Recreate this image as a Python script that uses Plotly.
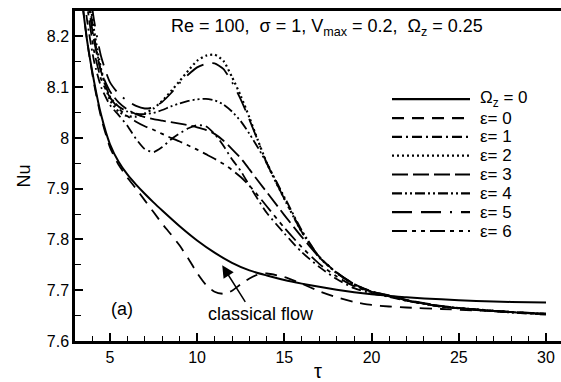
import plotly.graph_objects as go

# ---------------- data ----------------
tau_classical = [3.3, 3.7, 4.1, 4.5, 5.0, 5.5, 6.0, 6.5, 7.0, 7.5, 8.0, 9.0, 10.0, 11.0, 12.0, 13.0, 14.0, 15.0,
                 16.0, 17.0, 18.0, 19.0, 20.0, 21.0, 22.0, 24.0, 26.0, 28.0, 30.0]
nu_classical = [8.30, 8.19, 8.11, 8.045, 7.988, 7.953, 7.928, 7.908, 7.89, 7.873, 7.857, 7.826, 7.798, 7.774, 7.754,
                7.739, 7.729, 7.720, 7.713, 7.707, 7.701, 7.696, 7.692, 7.689, 7.686, 7.682, 7.679, 7.677, 7.676]

tau_e0 = [3.3, 3.7, 4.1, 4.5, 5.0, 5.5, 6.0, 6.5, 7.0, 7.5, 8.0, 8.5, 9.0, 9.5, 10.0, 10.5, 11.0, 11.5, 12.0, 12.5,
          13.0, 13.5, 14.0, 15.0, 16.0, 17.0, 18.0, 19.0, 20.0, 21.0, 22.0, 24.0, 26.0, 28.0, 30.0]
nu_e0 = [8.30, 8.19, 8.105, 8.04, 7.982, 7.947, 7.922, 7.900, 7.877, 7.854, 7.831, 7.81, 7.788, 7.762, 7.734, 7.711,
         7.697, 7.693, 7.699, 7.712, 7.723, 7.731, 7.733, 7.726, 7.713, 7.698, 7.686, 7.677, 7.671, 7.668, 7.666,
         7.663, 7.660, 7.657, 7.654]

tau_e = [3.3, 3.7, 4.1, 4.5, 5.0, 5.5, 6.0, 6.5, 7.0, 7.5, 8.0, 8.5, 9.0, 9.5, 10.0, 10.5, 11.0, 11.5, 12.0,
         12.5, 13.0, 13.5, 14.0, 15.0, 16.0, 17.0, 18.0, 19.0, 20.0, 21.0, 22.0, 24.0, 26.0, 28.0, 30.0]
nu_e1 = [8.36, 8.23, 8.15, 8.10, 8.065, 8.045, 8.024, 7.998, 7.978, 7.972, 7.982, 7.997, 8.009, 8.019, 8.025,
         8.023, 8.008, 7.985, 7.958, 7.935, 7.906, 7.878, 7.852, 7.812, 7.775, 7.746, 7.722, 7.704, 7.694, 7.687,
         7.679, 7.668, 7.662, 7.657, 7.653]
nu_e2 = [8.45, 8.32, 8.21, 8.135, 8.075, 8.052, 8.043, 8.042, 8.048, 8.058, 8.073, 8.092, 8.112, 8.133, 8.152,
         8.162, 8.164, 8.152, 8.12, 8.083, 8.04, 7.994, 7.950, 7.880, 7.815, 7.765, 7.734, 7.711, 7.697, 7.689,
         7.680, 7.668, 7.662, 7.657, 7.653]
nu_e3 = [8.40, 8.28, 8.19, 8.13, 8.092, 8.07, 8.056, 8.047, 8.041, 8.037, 8.034, 8.031, 8.028, 8.025, 8.021,
         8.016, 8.008, 7.995, 7.978, 7.96, 7.938, 7.915, 7.893, 7.848, 7.805, 7.765, 7.735, 7.712, 7.698, 7.690,
         7.681, 7.669, 7.662, 7.657, 7.654]
nu_e4 = [8.42, 8.30, 8.20, 8.13, 8.082, 8.062, 8.052, 8.048, 8.047, 8.049, 8.055, 8.062, 8.068, 8.073, 8.076,
         8.077, 8.074, 8.066, 8.052, 8.033, 8.008, 7.98, 7.950, 7.884, 7.818, 7.766, 7.734, 7.711, 7.697, 7.689,
         7.680, 7.668, 7.661, 7.656, 7.652]
nu_e5 = [8.45, 8.33, 8.23, 8.16, 8.11, 8.087, 8.073, 8.063, 8.058, 8.06, 8.071, 8.088, 8.108, 8.125, 8.139,
         8.146, 8.147, 8.136, 8.11, 8.076, 8.036, 7.993, 7.950, 7.880, 7.815, 7.766, 7.735, 7.712, 7.697, 7.689,
         7.680, 7.668, 7.662, 7.657, 7.653]
nu_e6 = [8.38, 8.26, 8.17, 8.115, 8.08, 8.058, 8.043, 8.032, 8.023, 8.016, 8.008, 8.0, 7.993, 7.985, 7.977,
         7.968, 7.959, 7.949, 7.937, 7.923, 7.906, 7.886, 7.865, 7.823, 7.785, 7.752, 7.727, 7.708, 7.696, 7.688,
         7.680, 7.668, 7.662, 7.657, 7.653]

series_names = ["Ω<sub>z</sub> = 0", "ε= 0", "ε= 1", "ε= 2", "ε= 3", "ε= 4", "ε= 5", "ε= 6"]
series_x = [tau_classical, tau_e0, tau_e, tau_e, tau_e, tau_e, tau_e, tau_e]
series_y = [nu_classical, nu_e0, nu_e1, nu_e2, nu_e3, nu_e4, nu_e5, nu_e6]

x_ticks = [5, 10, 15, 20, 25, 30]
y_ticks = [7.6, 7.7, 7.8, 7.9, 8.0, 8.1, 8.2]
y_ticklabels = ["7.6", "7.7", "7.8", "7.9", "8", "8.1", "8.2"]

# ---------------- styles ----------------
dashes = ["solid", "12px,8px", "10px,4px,2px,4px", "2px,3px", "16px,5px",
          "10px,3px,2px,3px,2px,3px", "20px,9px,20px,9px,2px,9px", "15px,5px,4px,5px,4px,5px"]
widths = [2.0, 1.8, 1.8, 2.2, 1.8, 1.8, 1.8, 1.8]

FONT = "Liberation Sans, Arial, sans-serif"

fig = go.Figure()
for name, xs, ys, d, w in zip(series_names, series_x, series_y, dashes, widths):
    fig.add_trace(go.Scatter(x=xs, y=ys, mode="lines", name=name, showlegend=False,
                             line=dict(color="black", width=w, dash=d, shape="spline", smoothing=0.6)))

# custom legend (long line samples like the reference)
plot_l, plot_r, plot_t, plot_b = 75, 561, 11, 344
pw, ph = plot_r - plot_l, plot_b - plot_t
leg_x0, leg_x1, leg_txt = 392, 470, 478
row0, row_step = 100, 19
for i, (name, d) in enumerate(zip(series_names, dashes)):
    py = row0 + i * row_step
    yp = (plot_b - py) / ph
    fig.add_shape(type="line", xref="paper", yref="paper",
                  x0=(leg_x0 - plot_l) / pw, x1=(leg_x1 - plot_l) / pw, y0=yp, y1=yp,
                  line=dict(color="black", width=2.2, dash=d))
    fig.add_annotation(xref="paper", yref="paper", x=(leg_txt - plot_l) / pw, y=yp,
                       text=name, showarrow=False, xanchor="left", yanchor="middle",
                       font=dict(family=FONT, size=17, color="black"))

# header text
fig.add_annotation(xref="paper", yref="paper", x=(327 - plot_l) / pw, y=(plot_b - 28) / ph,
                   text="Re = 100,  σ = 1, V<sub>max</sub> = 0.2,  Ω<sub>z</sub> = 0.25",
                   showarrow=False, xanchor="center", yanchor="middle",
                   font=dict(family=FONT, size=18, color="black"))
# panel label
fig.add_annotation(xref="paper", yref="paper", x=(122 - plot_l) / pw, y=(plot_b - 312) / ph,
                   text="(a)", showarrow=False, xanchor="center", yanchor="middle",
                   font=dict(family=FONT, size=18, color="black"))
# classical flow label with arrow
fig.add_annotation(x=11.44, y=7.749, ax=24, ay=38, text="", showarrow=True,
                   arrowhead=2, arrowsize=1.6, arrowwidth=1.5, arrowcolor="black")
fig.add_annotation(xref="paper", yref="paper", x=(261 - plot_l) / pw, y=(plot_b - 317) / ph,
                   text="classical flow", showarrow=False, xanchor="center", yanchor="middle",
                   font=dict(family=FONT, size=18, color="black"))

fig.update_layout(
    width=561, height=382,
    margin=dict(l=plot_l, r=0, t=plot_t, b=382 - plot_b),
    paper_bgcolor="white", plot_bgcolor="white",
    font=dict(family=FONT, size=16, color="black"),
)
fig.update_xaxes(range=[3, 30.86], tickvals=x_ticks, ticks="inside", ticklen=8, tickwidth=1.5,
                 tickcolor="black", showline=True, linewidth=2.5, linecolor="black", mirror=True,
                 showgrid=False, zeroline=False,
                 minor=dict(dtick=1, tick0=0, ticks="inside", ticklen=5, tickwidth=1.2, tickcolor="black"),
                 tickfont=dict(family=FONT, size=16, color="black"),
                 title=dict(text="τ", font=dict(family=FONT, size=20, color="black"), standoff=2))
fig.update_yaxes(range=[7.6, 8.25], tickvals=y_ticks, ticktext=y_ticklabels, ticks="inside", ticklen=8,
                 tickwidth=1.5, tickcolor="black", showline=True, linewidth=2.5, linecolor="black",
                 showgrid=False, zeroline=False,
                 minor=dict(dtick=0.05, tick0=7.6, ticks="inside", ticklen=6, tickwidth=1.2, tickcolor="black"),
                 tickfont=dict(family=FONT, size=16, color="black"),
                 title=dict(text="Nu", font=dict(family=FONT, size=18, color="black"), standoff=12))

fig.write_html("out.html")
